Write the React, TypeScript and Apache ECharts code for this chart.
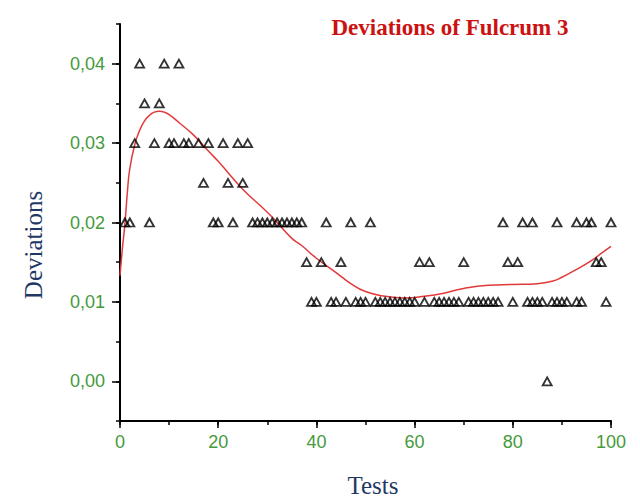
import React, { useEffect, useRef } from "react";
import * as echarts from "echarts";

// Tests (x) at each deviation level (y)
const testsAt040 = [4, 9, 12];
const testsAt035 = [5, 8];
const testsAt030 = [3, 7, 10, 11, 13, 14, 16, 18, 21, 24, 26];
const testsAt025 = [17, 22, 25];
const testsAt020 = [1, 2, 6, 19, 20, 23, 27, 28, 29, 30, 31, 32, 33, 34, 35, 36, 37, 42, 47, 51, 78, 82, 84, 89, 93, 95, 96, 100];
const testsAt015 = [38, 41, 45, 61, 63, 70, 79, 81, 97, 98];
const testsAt010 = [39, 40, 43, 44, 46, 48, 49, 50, 52, 53, 54, 55, 56, 57, 58, 59, 60, 62, 64, 65, 66, 67, 68, 69, 71, 72, 73, 74, 75, 76, 77, 80, 83, 84, 85, 86, 88, 89, 90, 91, 93, 94, 99];
const testsAt000 = [87];

// Fitted curve
const fitX = [0, 0.5, 1, 1.5, 2, 3, 4, 5, 6, 7, 8, 9, 10, 12, 15, 18, 20, 25, 30, 32, 35, 37, 40, 44, 47, 50, 54, 58, 62, 66, 70, 75, 80, 85, 88, 90, 93, 96, 98, 100];
const fitY = [0.0133, 0.0168, 0.0198, 0.0238, 0.0268, 0.0298, 0.0316, 0.0328, 0.0335, 0.0339, 0.034, 0.0339, 0.0336, 0.0326, 0.031, 0.029, 0.0277, 0.0242, 0.0213, 0.02, 0.018, 0.0171, 0.0155, 0.0137, 0.0123, 0.0113, 0.0107, 0.0105, 0.0107, 0.0111, 0.0117, 0.0121, 0.0122, 0.0123, 0.0126, 0.0131, 0.0141, 0.0152, 0.0161, 0.017];

// Axis ticks
const yLabelValues = [0, 0.01, 0.02, 0.03, 0.04];
const xLabelValues = [0, 20, 40, 60, 80, 100];

const titleText = "Deviations of Fulcrum 3";
const yTitle = "Deviations";
const xTitle = "Tests";

export default function App() {
  const ref = useRef<HTMLDivElement>(null);
  useEffect(() => {
    document.body.style.margin = "0";
    const chart = echarts.init(ref.current!, null, { renderer: "svg" });
    const groups: [number[], number][] = [
      [testsAt040, 0.04],
      [testsAt035, 0.035],
      [testsAt030, 0.03],
      [testsAt025, 0.025],
      [testsAt020, 0.02],
      [testsAt015, 0.015],
      [testsAt010, 0.01],
      [testsAt000, 0.0],
    ];
    const scatterData: number[][] = [];
    groups.forEach(([xs, y]) => xs.forEach((x) => scatterData.push([x, y])));
    const lineData = fitX.map((x, i) => [x, fitY[i]]);
    const labelColor = "#459a3c";
    const tickStyle = { color: "#000", width: 1.5 };
    chart.setOption({
      animation: false,
      backgroundColor: "#fff",
      grid: { left: 120, right: 29, top: 24, bottom: 81 },
      xAxis: [
        {
          type: "value",
          min: 0,
          max: 100,
          interval: 10,
          position: "bottom",
          axisLine: { show: true, onZero: false, lineStyle: { color: "#000", width: 2 } },
          axisTick: { show: true, length: 4, lineStyle: tickStyle },
          axisLabel: { show: false },
          splitLine: { show: false },
        },
        {
          type: "value",
          min: 0,
          max: 100,
          interval: 20,
          position: "bottom",
          axisLine: { show: false, onZero: false },
          axisTick: { show: true, length: 7, lineStyle: tickStyle, customValues: xLabelValues },
          axisLabel: {
            show: true,
            customValues: xLabelValues,
            color: labelColor,
            fontSize: 18,
            fontFamily: "Liberation Sans",
            margin: 12,
          },
          splitLine: { show: false },
        },
      ],
      yAxis: [
        {
          type: "value",
          min: -0.005,
          max: 0.045,
          interval: 0.005,
          position: "left",
          axisLine: { show: true, onZero: false, lineStyle: { color: "#000", width: 2 } },
          axisTick: { show: true, length: 4, lineStyle: tickStyle },
          axisLabel: { show: false },
          splitLine: { show: false },
        },
        {
          type: "value",
          min: -0.005,
          max: 0.045,
          position: "left",
          axisLine: { show: false, onZero: false },
          axisTick: { show: true, length: 8, lineStyle: tickStyle, customValues: yLabelValues },
          axisLabel: {
            show: true,
            customValues: yLabelValues,
            formatter: (v: number) => v.toFixed(2).replace(".", ","),
            color: labelColor,
            fontSize: 18,
            fontFamily: "Liberation Sans",
            margin: 15,
          },
          splitLine: { show: false },
        },
      ],
      series: [
        {
          type: "line",
          xAxisIndex: 0,
          yAxisIndex: 0,
          data: lineData,
          smooth: true,
          showSymbol: false,
          lineStyle: { color: "#e23a3a", width: 1.5 },
          z: 2,
        },
        {
          type: "scatter",
          xAxisIndex: 0,
          yAxisIndex: 0,
          data: scatterData,
          symbol: "triangle",
          symbolSize: [9, 8],
          itemStyle: { color: "rgba(0,0,0,0)", borderColor: "#000", borderWidth: 1.8 },
          z: 3,
        },
      ],
      graphic: [
        {
          type: "text",
          x: 450,
          y: 27,
          style: {
            text: titleText,
            fill: "#cc1111",
            fontFamily: "Liberation Serif",
            fontWeight: "bold",
            fontSize: 23,
            align: "center",
            verticalAlign: "middle",
          },
        },
        {
          type: "text",
          x: 33,
          y: 245,
          rotation: Math.PI / 2,
          style: {
            text: yTitle,
            fill: "#1f3864",
            fontFamily: "Liberation Serif",
            fontSize: 25,
            align: "center",
            verticalAlign: "middle",
          },
        },
        {
          type: "text",
          x: 373,
          y: 485,
          style: {
            text: xTitle,
            fill: "#1f3864",
            fontFamily: "Liberation Serif",
            fontSize: 25,
            align: "center",
            verticalAlign: "middle",
          },
        },
      ],
    });
    return () => chart.dispose();
  }, []);
  return <div ref={ref} style={{ width: 640, height: 502, background: "#fff" }} />;
}
